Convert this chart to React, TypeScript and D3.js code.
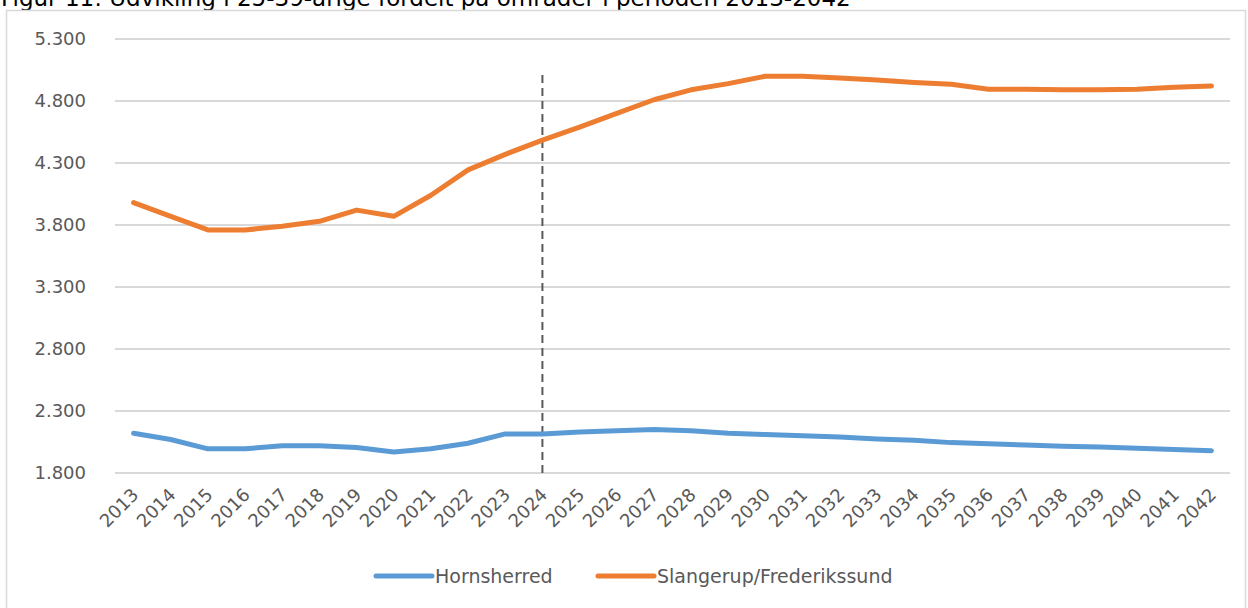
import React from "react";
import * as d3 from "d3";

const years = d3.range(2013, 2043).map(String);
const hornsherred = [2120, 2070, 1995, 1995, 2020, 2020, 2005, 1970, 1995, 2040, 2115, 2115, 2130, 2140, 2150, 2140, 2120, 2110, 2100, 2090, 2075, 2065, 2045, 2035, 2025, 2015, 2010, 2000, 1990, 1980];
const slangerup = [3980, 3870, 3760, 3760, 3790, 3830, 3920, 3870, 4040, 4245, 4370, 4485, 4590, 4700, 4810, 4890, 4940, 5000, 5000, 4985, 4970, 4950, 4935, 4895, 4895, 4890, 4890, 4895, 4910, 4920];
const yTicks = [1800, 2300, 2800, 3300, 3800, 4300, 4800, 5300];
const seriesNames = ["Hornsherred", "Slangerup/Frederikssund"];
const colors = ["#5B9BD5", "#ED7D31"];
const dividerYear = "2024";
const title = "Figur 11: Udvikling i 25-39-årige fordelt på områder i perioden 2013-2042";

export default function App() {
  const W = 1248, H = 608;
  const x = d3.scaleBand().domain(years).range([115, 1230]);
  const cx = (d: string) => (x(d) as number) + x.bandwidth() / 2;
  const y = d3.scaleLinear().domain([1800, 5300]).range([473, 39]);
  const fmt = (v: number) => d3.format(",")(v).replace(/,/g, ".");
  const line = d3.line<number>().x((_, i) => cx(years[i])).y((v) => y(v));
  const font = "DejaVu Sans, Verdana, sans-serif";
  return (
    <svg width={W} height={H} style={{ position: "absolute", left: 0, top: 0, background: "#fff" }}>
      <text x={1} y={6} fontFamily={font} fontSize={23} fill="#000">{title}</text>
      <rect x={6.5} y={10.5} width={1239} height={620} fill="#fff" stroke="#D9D9D9" strokeWidth={1.5} />
      {yTicks.map((t) => (
        <g key={t}>
          <line x1={115} x2={1230} y1={y(t)} y2={y(t)} stroke="#D9D9D9" strokeWidth={2} />
          <text x={86} y={y(t) + 6} textAnchor="end" fontFamily={font} fontSize={18} fill="#595959">{fmt(t)}</text>
        </g>
      ))}
      {years.map((yr) => (
        <text key={yr} transform={`translate(${cx(yr) + 6},${496}) rotate(-45)`} textAnchor="end" fontFamily={font} fontSize={18} fill="#595959">{yr}</text>
      ))}
      <line x1={cx(dividerYear)} x2={cx(dividerYear)} y1={75} y2={473} stroke="#595959" strokeWidth={2} strokeDasharray="8,5" />
      {[hornsherred, slangerup].map((s, i) => (
        <path key={i} d={line(s) as string} fill="none" stroke={colors[i]} strokeWidth={5} strokeLinecap="round" strokeLinejoin="round" />
      ))}
      {seriesNames.map((n, i) => {
        const lx = i === 0 ? 376 : 598;
        return (
          <g key={n}>
            <line x1={lx} x2={lx + 56} y1={576} y2={576} stroke={colors[i]} strokeWidth={5} strokeLinecap="round" />
            <text x={lx + 59} y={583} fontFamily={font} fontSize={19} fill="#595959">{n}</text>
          </g>
        );
      })}
    </svg>
  );
}
